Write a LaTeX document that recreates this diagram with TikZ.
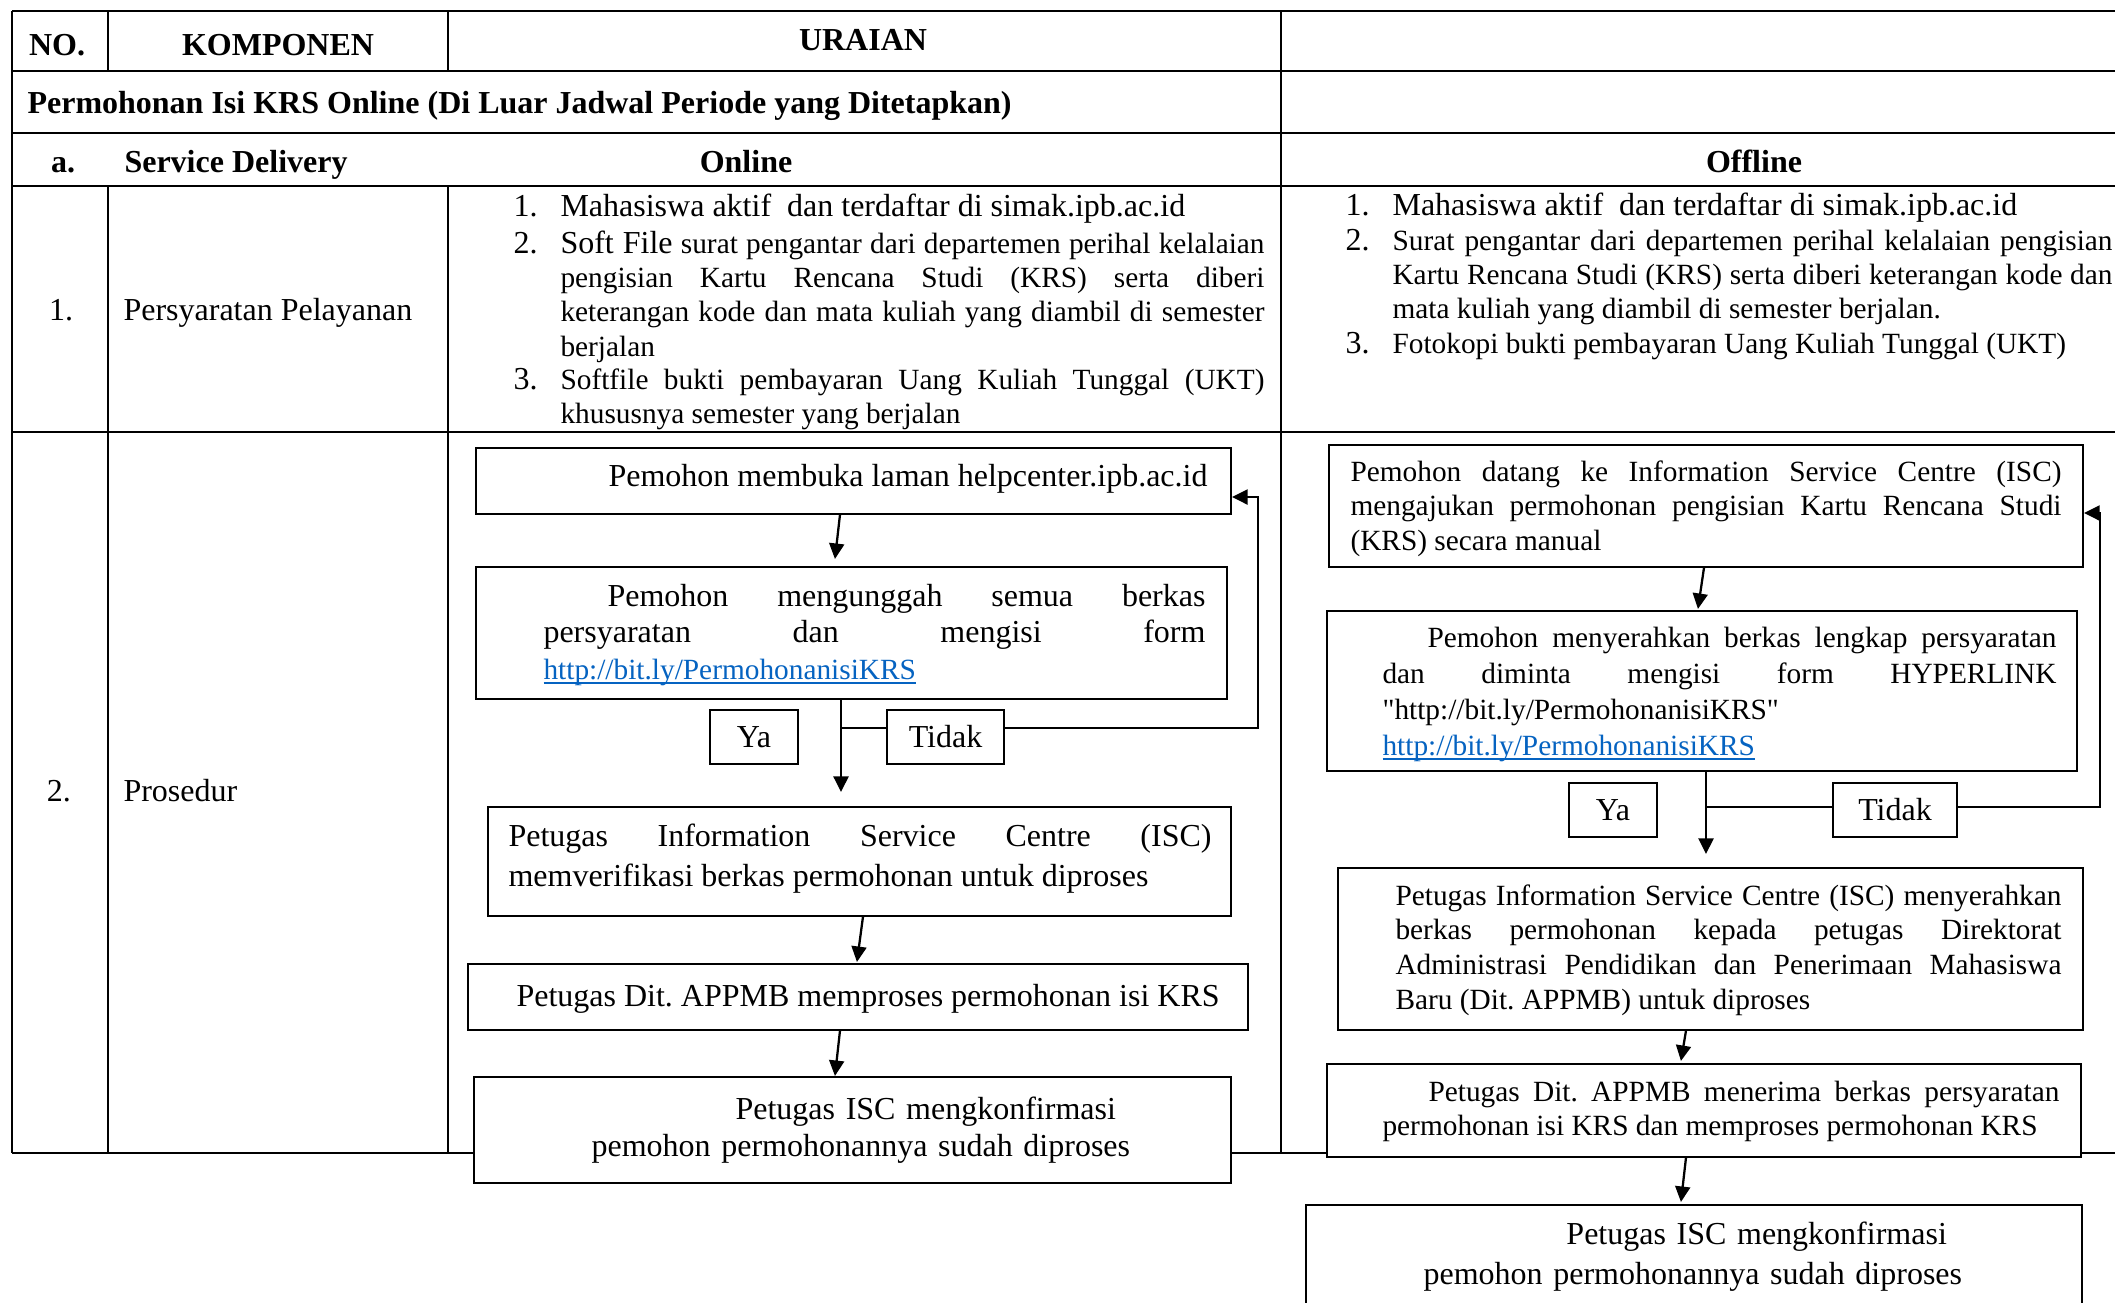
\documentclass[tikz,border=0pt]{standalone}
\usepackage{fontspec}
\setmainfont{Liberation Serif}
\usetikzlibrary{arrows.meta,calc,fit}
\definecolor{linkblue}{HTML}{0563C1}
\frenchspacing
\newcommand\weblink[1]{\textcolor{linkblue}{\setbox0\hbox{#1}\rlap{\rule[-1.7pt]{\wd0}{0.6pt}}\box0}}
\newcommand\twelve{\fontsize{12}{13.6}\selectfont}
\newcommand\eleven{\fontsize{11}{12.9}\selectfont}

\begin{document}
\begin{tikzpicture}[x=0.375pt,y=-0.375pt,
  tableline/.style={line width=0.45pt},
  flowbox/.style={draw,line width=0.8pt,fill=white,inner sep=0pt},
  choice/.style={draw,line width=0.7pt,fill=white,inner sep=0pt,font=\twelve,
    text height=8.5pt,text depth=1pt,minimum height=20.25pt},
  txt/.style={inner sep=0pt,anchor=base west,font=\twelve},
  head/.style={inner sep=0pt,anchor=base,font=\twelve\bfseries},
  para/.style={inner sep=0pt,anchor=base west,align=justify},
  arr/.style={line width=0.85pt,-{Triangle[length=5.8pt,width=5.6pt]}}]

\useasboundingbox (0,0) rectangle (2115,1302);
\clip (0,0) rectangle (2115,1302);

% ---------- table grid ----------
\foreach \yy in {11,71,133,186,432,1153}
  \draw[tableline] (12,\yy) -- (2115,\yy);
\draw[tableline] (12,11) -- (12,1153);
\draw[tableline] (1281,11) -- (1281,1153);
\draw[tableline] (108,11) -- (108,71) (108,186) -- (108,1153);
\draw[tableline] (448,11) -- (448,71) (448,186) -- (448,1153);

% ---------- header rows ----------
\node[head] (hno) at (57,55) {NO.};
\node[head] (hkomp) at (278,55) {KOMPONEN};
\node[head] (hura) at (863,50) {URAIAN};
\node[head,anchor=base west] (title) at (27,113)
  {Permohonan Isi KRS Online (Di Luar Jadwal Periode yang Ditetapkan)};
\node[head] (sa) at (63,172) {a.};
\node[head,anchor=base west] (sd) at (124,172) {Service Delivery};
\node[head] (on) at (746,172) {Online};
\node[head] (off) at (1754,172) {Offline};

\node[txt,anchor=base] (n1) at (61,320) {1.};
\node[txt] (k1) at (123,320) {Persyaratan Pelayanan};
\node[txt,anchor=base] (n2) at (59,801) {2.};
\node[txt] (k2) at (123,801) {Prosedur};

% ---------- requirements: online ----------
\node[txt] (on1n) at (513,216) {1.};
\node[txt] (on1) at (560,216) {Mahasiswa aktif\ \ dan terdaftar di simak.ipb.ac.id};
\node[txt] (on2n) at (513,253) {2.};
\node[para,text width=264pt,font=\eleven] (on2) at (560,253)
  {{\twelve Soft File} surat pengantar dari departemen perihal kelalaian\linebreak
   pengisian Kartu Rencana Studi (KRS) serta diberi\linebreak
   keterangan kode dan mata kuliah yang diambil di semester\linebreak
   berjalan};
\node[txt] (on3n) at (513,389) {3.};
\node[para,text width=264pt,font=\eleven] (on3) at (560,389)
  {Softfile bukti pembayaran Uang Kuliah Tunggal (UKT)\linebreak
   khususnya semester yang berjalan};

% ---------- requirements: offline ----------
\node[txt] (of1n) at (1345,215) {1.};
\node[txt] (of1) at (1392,215) {Mahasiswa aktif\ \ dan terdaftar di simak.ipb.ac.id};
\node[txt] (of2n) at (1345,250) {2.};
\node[para,text width=270pt,font=\eleven] (of2) at (1392,250)
  {Surat pengantar dari departemen perihal kelalaian pengisian\linebreak
   Kartu Rencana Studi (KRS) serta diberi keterangan kode dan\linebreak
   mata kuliah yang diambil di semester berjalan.};
\node[txt] (of3n) at (1345,353) {3.};
\node[txt,font=\eleven] (of3) at (1392,353) {Fotokopi bukti pembayaran Uang Kuliah Tunggal (UKT)};

% ---------- procedure: online ----------
\node[flowbox,fit={(476,448)(1231,514)}] (a1) {};
\node[flowbox,fit={(476,567)(1227,699)}] (a2) {};
\node[flowbox,fit={(488,807)(1231,916)}] (a3) {};
\node[flowbox,fit={(468,964)(1248,1030)}] (a4) {};
\node[flowbox,fit={(474,1077)(1231,1183)}] (a5) {};

\coordinate (ja) at (841,728);
\coordinate (ra) at (1258,728);
\draw[arr] ($(a1.south west)+(365,0)$) -- ($(a2.north west)+(360,-7)$);
\draw[arr] (a2.south -| ja) -- ($(a3.north -| ja)+(0,-14)$);
\draw[arr] (ja) -- (ra) |- ($(a1.east)+(0,16)$);
\draw[arr] ($(a3.south west)+(376,0)$) -- ($(a4.north west)+(390,-1)$);
\draw[arr] ($(a4.south west)+(373,0)$) -- ($(a5.north west)+(362,0)$);

\node[choice,minimum width=33pt] (ya1) at (754,737) {Ya};
\node[choice,minimum width=43.875pt] (no1) at (945.5,737) {Tidak};

\node[txt] (a1t) at (608,486) {Pemohon membuka laman helpcenter.ipb.ac.id};
\node[para,text width=248.25pt,font=\fontsize{12}{13.7}\selectfont] (a2t) at (543,606)
  {\hspace*{24pt}Pemohon mengunggah semua berkas\linebreak
   persyaratan dan mengisi form\linebreak
   {\eleven\weblink{http://bit.ly/PermohonanisiKRS}}};
\node[para,text width=263.625pt,font=\fontsize{12}{15}\selectfont] (a3t) at (508,846)
  {Petugas Information Service Centre (ISC)\linebreak
   memverifikasi berkas permohonan untuk diproses};
\node[txt] (a4t) at (516,1006) {Petugas Dit. APPMB memproses permohonan isi KRS};
\node[txt,align=left,text width=215pt,font=\fontsize{12}{13.9}\selectfont] (a5t) at (591,1119)
  {\hspace*{54pt}Petugas ISC mengkonfirmasi\\pemohon permohonannya sudah diproses};

% ---------- procedure: offline ----------
\node[flowbox,fit={(1329,445)(2083,567)}] (b1) {};
\node[flowbox,fit={(1327,611)(2077,771)}] (b2) {};
\node[flowbox,fit={(1338,868)(2083,1030)}] (b3) {};
\node[flowbox,fit={(1327,1064)(2081,1157)}] (b4) {};
\node[flowbox,fit={(1306,1205)(2082,1340)}] (b5) {};

\coordinate (jb) at (1706,807);
\coordinate (rb) at (2100,807);
\draw[arr] ($(b1.south west)+(376,0)$) -- ($(b2.north west)+(372,-1)$);
\draw[arr] (b2.south -| jb) -- ($(b3.north -| jb)+(0,-13)$);
\draw[arr] (jb) -- (rb) |- ($(b1.east)+(0,7)$);
\draw[arr] ($(b3.south west)+(349,0)$) -- ($(b4.north west)+(355,-2)$);
\draw[arr] ($(b4.south west)+(360,0)$) -- ($(b5.north west)+(376,-2)$);

\node[choice,minimum width=33pt] (ya2) at (1613,810) {Ya};
\node[choice,minimum width=46.5pt] (no2) at (1895,810) {Tidak};

\node[para,text width=266.625pt,font=\fontsize{11}{12.94}\selectfont] (b1t) at (1350,481)
  {Pemohon datang ke Information Service Centre (ISC)\linebreak
   mengajukan permohonan pengisian Kartu Rencana Studi\linebreak
   (KRS) secara manual};
\node[para,text width=252.75pt,font=\fontsize{11}{13.5}\selectfont] (b2t) at (1382,647)
  {\hspace*{16.875pt}Pemohon menyerahkan berkas lengkap persyaratan\linebreak
   dan diminta mengisi form HYPERLINK\linebreak
   \textquotedbl http://bit.ly/PermohonanisiKRS\textquotedbl\newline
   \weblink{http://bit.ly/PermohonanisiKRS}};
\node[para,text width=249.75pt,font=\fontsize{11}{13.1}\selectfont] (b3t) at (1395,905)
  {Petugas Information Service Centre (ISC) menyerahkan\linebreak
   berkas permohonan kepada petugas Direktorat\linebreak
   Administrasi Pendidikan dan Penerimaan Mahasiswa\linebreak
   Baru (Dit. APPMB) untuk diproses};
\node[para,text width=253.875pt,font=\fontsize{11}{13.1}\selectfont] (b4t) at (1382,1101)
  {\hspace*{17.25pt}Petugas Dit. APPMB menerima berkas persyaratan\linebreak
   permohonan isi KRS dan memproses permohonan KRS};
\node[txt,align=left,text width=215pt,font=\fontsize{12}{15}\selectfont] (b5t) at (1423,1244)
  {\hspace*{53.6pt}Petugas ISC mengkonfirmasi\\pemohon permohonannya sudah diproses};
\end{tikzpicture}
\end{document}
